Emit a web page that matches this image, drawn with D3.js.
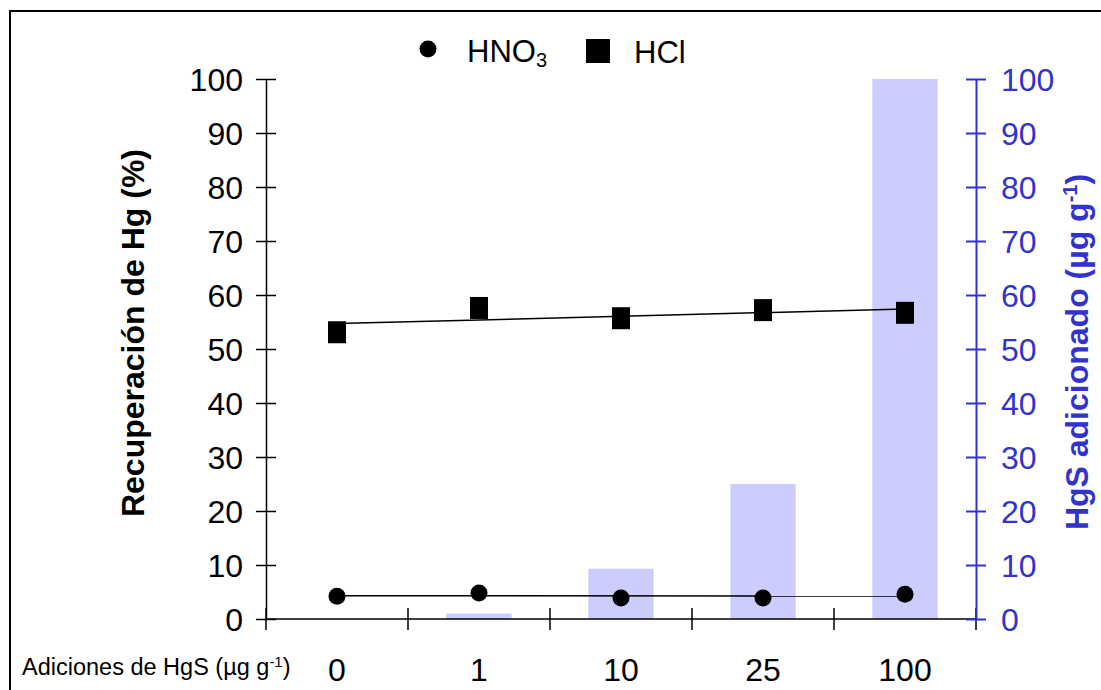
<!DOCTYPE html>
<html>
<head>
<meta charset="utf-8">
<script src="https://cdn.jsdelivr.net/npm/d3@7"></script>
<style>
  html, body { margin: 0; padding: 0; background: #fff; }
  svg { display: block; }
  text { font-family: "Liberation Sans", Arial, sans-serif; }
</style>
</head>
<body>
<svg id="chart" width="1101" height="690"></svg>
<script>
// ---- data ----
const categories = ["0", "1", "10", "25", "100"];
const hgsAdded = [0, 1, 9.3, 25, 100];              // bars, right axis (µg g-1)
const hno3 = [4.2, 4.8, 3.9, 3.9, 4.6];             // recovery %, circles
const hcl = [53.1, 57.6, 55.7, 57.2, 56.7];         // recovery %, squares
const leftTicks = [0, 10, 20, 30, 40, 50, 60, 70, 80, 90, 100];
const rightTicks = [0, 10, 20, 30, 40, 50, 60, 70, 80, 90, 100];

// ---- layout ----
const svg = d3.select("#chart");
const W = 1101, H = 690;
const plot = { left: 266, right: 976, top: 79, bottom: 619 };
const blue = "#3333CC";
const barFill = "#CCCCFF";

// frame border
svg.append("rect").attr("x", 10).attr("y", 11).attr("width", W + 20).attr("height", H + 20)
  .attr("fill", "none").attr("stroke", "#000").attr("stroke-width", 2);

const x = d3.scaleBand().domain(categories).range([plot.left, plot.right]).paddingInner(0).paddingOuter(0);
const yL = d3.scaleLinear().domain([0, 100]).range([plot.bottom, plot.top]);
const yR = d3.scaleLinear().domain([0, 100]).range([plot.bottom, plot.top]);
const cx = c => x(c) + x.bandwidth() / 2;

// bars
const barW = x.bandwidth() * 0.46;
svg.append("g").selectAll("rect").data(categories).join("rect")
  .attr("x", c => cx(c) - barW / 2)
  .attr("width", barW)
  .attr("y", (c, i) => yR(hgsAdded[i]))
  .attr("height", (c, i) => yR(0) - yR(hgsAdded[i]))
  .attr("fill", barFill);

// x axis (black) with ticks at band boundaries
const xEdges = categories.map(c => x(c)).concat([plot.right]);
svg.append("line").attr("x1", plot.left).attr("x2", plot.right)
  .attr("y1", plot.bottom).attr("y2", plot.bottom).attr("stroke", "#000").attr("stroke-width", 1.5);
svg.append("g").selectAll("line").data(xEdges).join("line")
  .attr("x1", d => d).attr("x2", d => d)
  .attr("y1", plot.bottom - 11).attr("y2", plot.bottom + 11)
  .attr("stroke", "#000").attr("stroke-width", 1.5);

// category labels
svg.append("g").selectAll("text").data(categories).join("text")
  .attr("x", c => cx(c)).attr("y", 681)
  .attr("text-anchor", "middle").attr("font-size", 32).attr("fill", "#000")
  .text(c => c);

// x axis caption
const cap = svg.append("text").attr("x", 22).attr("y", 675).attr("font-size", 23.5).attr("fill", "#000");
cap.append("tspan").text("Adiciones de HgS (µg g");
cap.append("tspan").attr("dy", -8).attr("font-size", 15).text("-1");
cap.append("tspan").attr("dy", 8).text(")");

// left axis
const leftAxis = d3.axisLeft(yL).tickValues(leftTicks).tickSize(0).tickPadding(23);
const gL = svg.append("g").attr("transform", `translate(${plot.left},0)`).call(leftAxis);
gL.select(".domain").attr("stroke", "#000").attr("stroke-width", 1.5);
gL.selectAll(".tick text").attr("font-size", 32).attr("fill", "#000")
  .attr("font-family", "Liberation Sans, Arial, sans-serif").attr("dy", "0.37em");
gL.selectAll(".tick").append("line").attr("x1", -10).attr("x2", 10).attr("y1", 0).attr("y2", 0)
  .attr("stroke", "#000").attr("stroke-width", 1.5);

// right axis
const rightAxis = d3.axisRight(yR).tickValues(rightTicks).tickSize(0).tickPadding(25);
const gR = svg.append("g").attr("transform", `translate(${plot.right},0)`).call(rightAxis);
gR.select(".domain").attr("stroke", blue).attr("stroke-width", 2);
gR.selectAll(".tick text").attr("font-size", 32).attr("fill", blue)
  .attr("font-family", "Liberation Sans, Arial, sans-serif").attr("dy", "0.37em");
gR.selectAll(".tick").append("line").attr("x1", -10).attr("x2", 10).attr("y1", 0).attr("y2", 0)
  .attr("stroke", blue).attr("stroke-width", 2);

// trend lines (linear regression across category index)
function fit(vals) {
  const n = vals.length, xs = vals.map((v, i) => i);
  const mx = d3.mean(xs), my = d3.mean(vals);
  const b = d3.sum(xs.map((xi, i) => (xi - mx) * (vals[i] - my))) / d3.sum(xs.map(xi => (xi - mx) ** 2));
  const a = my - b * mx;
  return [[0, a], [n - 1, a + b * (n - 1)]];
}
const line = d3.line().x(d => cx(categories[d[0]])).y(d => yL(d[1]));
[hno3, hcl].forEach(vals => {
  svg.append("path").attr("d", line(fit(vals))).attr("stroke", "#000").attr("stroke-width", 1.5).attr("fill", "none");
});

// HNO3 circles
svg.append("g").selectAll("circle").data(hno3).join("circle")
  .attr("cx", (d, i) => cx(categories[i])).attr("cy", d => yL(d)).attr("r", 8.5).attr("fill", "#000");

// HCl squares
const sqW = 18, sqH = 22;
svg.append("g").selectAll("rect").data(hcl).join("rect")
  .attr("x", (d, i) => cx(categories[i]) - sqW / 2).attr("y", d => yL(d) - sqH / 2)
  .attr("width", sqW).attr("height", sqH).attr("fill", "#000");

// legend
svg.append("circle").attr("cx", 428).attr("cy", 49).attr("r", 8.5).attr("fill", "#000");
const l1 = svg.append("text").attr("x", 467).attr("y", 62).attr("font-size", 31).attr("fill", "#000");
l1.append("tspan").text("HNO");
l1.append("tspan").attr("dy", 5).attr("font-size", 20).text("3");
svg.append("rect").attr("x", 586).attr("y", 39).attr("width", 24).attr("height", 24).attr("fill", "#000");
svg.append("text").attr("x", 634).attr("y", 63).attr("font-size", 31).attr("fill", "#000").text("HCl");

// left axis title
svg.append("text").attr("transform", "translate(144,333) rotate(-90)")
  .attr("text-anchor", "middle").attr("font-size", 32).attr("font-weight", "bold").attr("fill", "#000")
  .text("Recuperación de Hg (%)");

// right axis title
const rt = svg.append("text").attr("transform", "translate(1088,352) rotate(-90)")
  .attr("text-anchor", "middle").attr("font-size", 32).attr("font-weight", "bold").attr("fill", blue);
rt.append("tspan").text("HgS adicionado (µg g");
rt.append("tspan").attr("dy", -11).attr("font-size", 20).text("-1");
rt.append("tspan").attr("dy", 11).text(")");
</script>
</body>
</html>
